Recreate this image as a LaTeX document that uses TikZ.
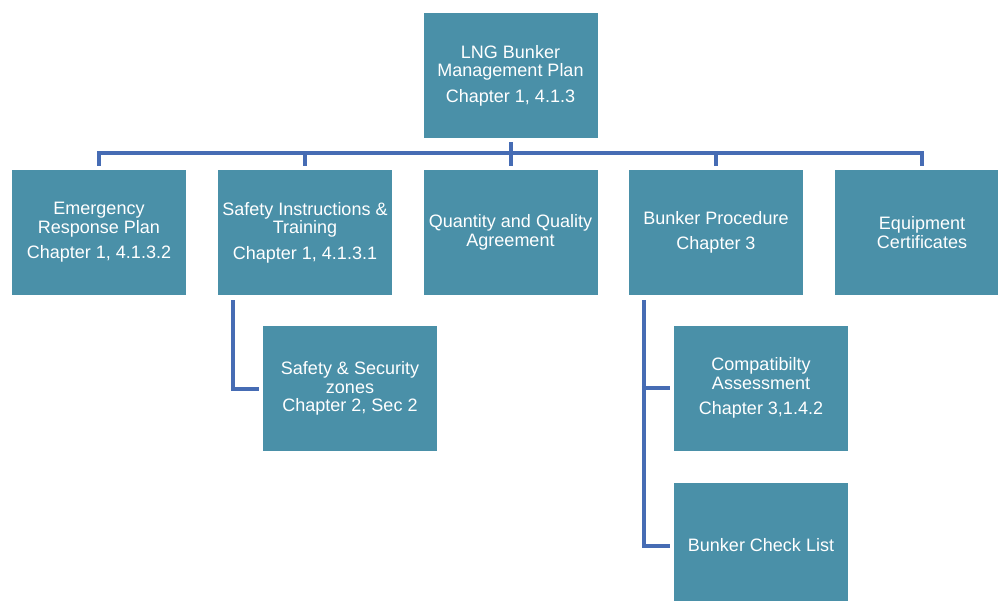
\documentclass[tikz,border=0pt]{standalone}
\usepackage{fontspec}
\setmainfont{Liberation Sans}
\definecolor{boxfill}{RGB}{74,144,168}
\definecolor{linecol}{RGB}{70,108,180}
\tikzset{
  orgbox/.style={rectangle, fill=boxfill, minimum width=174pt, minimum height=125pt, inner sep=0pt,
    text=white, align=center, font=\fontsize{18}{18.5}\selectfont},
  conn/.style={draw=linecol, line width=4pt, line join=miter, line cap=butt}
}
\begin{document}
\begin{tikzpicture}[x=1pt,y=-1pt]
\useasboundingbox (0,0) rectangle (998,600);
\clip (0,0) rectangle (998,600);
\node[orgbox] (top) at (510.5,75.5) {LNG Bunker\\Management Plan\\[7pt]Chapter 1, 4.1.3};
\node[orgbox] (e) at (99,232.5) {Emergency\\Response Plan\\[7pt]Chapter 1, 4.1.3.2};
\node[orgbox] (s) at (305,232.5) {Safety Instructions \&\\Training\\[7pt]Chapter 1, 4.1.3.1};
\node[orgbox] (q) at (510.5,232.5) {Quantity and Quality\\Agreement};
\node[orgbox] (bp) at (716,232.5) {Bunker Procedure\\[7pt]Chapter 3};
\node[orgbox] (eq) at (922,232.5) {Equipment\\Certificates};
\node[orgbox] (sz) at (350,388.5) {Safety \& Security\\zones\\Chapter 2, Sec 2};
\node[orgbox] (ca) at (761,388) {Compatibilty\\Assessment\\[7pt]Chapter 3,1.4.2};
\node[orgbox] (cl) at (761,545.5) {Bunker Check List};
% top-level connectors
\draw[conn] ([yshift=4pt]e.north) -- ([yshift=17pt]e.north) -| ([yshift=4pt]eq.north);
\draw[conn] ([yshift=4pt]s.north) -- ([yshift=17pt]s.north);
\draw[conn] ([yshift=4pt]bp.north) -- ([yshift=17pt]bp.north);
\draw[conn] ([yshift=-4pt]top.south) -- ([yshift=4pt]q.north);
% children
\draw[conn] ([xshift=15pt,yshift=-5pt]s.south west) |- ([xshift=-4pt]sz.west);
\draw[conn] ([xshift=15pt,yshift=-5pt]bp.south west) |- ([xshift=-4pt]cl.west);
\draw[conn] ([xshift=13pt]bp.south west |- ca.west) -- ([xshift=-4pt]ca.west);
\end{tikzpicture}
\end{document}
